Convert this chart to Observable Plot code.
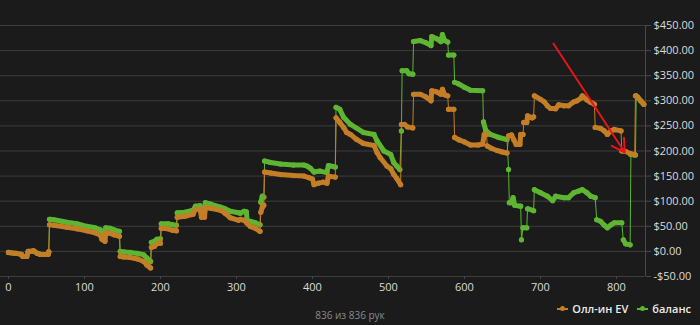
<!DOCTYPE html>
<html><head><meta charset="utf-8">
<script src="https://cdn.jsdelivr.net/npm/d3@7"></script>
<script src="https://cdn.jsdelivr.net/npm/@observablehq/plot@0.6"></script>
<style>
html,body{margin:0;padding:0;background:#1b1b1b;}
#wrap{position:relative;width:700px;height:325px;font-family:"Open Sans",sans-serif;overflow:hidden;background:#1b1b1b}
#legend{position:absolute;right:9px;top:301px;font-size:11px;color:#ececec;font-weight:600;display:flex;gap:9px;align-items:center;white-space:nowrap}
.item{display:flex;align-items:center;gap:4px}
.sw{position:relative;width:11px;height:2px}
.sw i{position:absolute;left:3px;top:-2px;width:5px;height:5px;border-radius:50%;background:inherit}
#caption{position:absolute;left:0;right:0;top:308px;text-align:center;font-size:10px;color:#8a8a8a}
</style></head>
<body><div id="wrap"><div id="chart"></div><div id="legend"></div><div id="caption"></div></div>
<script>
// ---- data ----
const seriesNames = ["Олл-ин EV", "баланс"];
const seriesColors = ["#c47e26", "#5db531"];
const xDomain = [-10.5, 838.2];
const yDomain = [-50, 450];
const xTicks = [0, 100, 200, 300, 400, 500, 600, 700, 800];
const yTicks = [-50, 0, 50, 100, 150, 200, 250, 300, 350, 400, 450];
const caption = "836 из 836 рук";
const arrowStart = [717, 414];
const arrowEnd = [811, 197];

const evPoints = [
 [0,-2],[10,-4],[17,-6],[19,-10],[24,-10],[26,0],[33,1],[38,-4],[42,-6],[52,-6],[53,-1],
 [54,53],[60,52],[77,48],[90,45],[103,41],[114,37],[121,32],[123,24],[127,20],[128,37],[134,36],[139,33],[146,30],
 [147,-10],[152,-11],[160,-12],[170,-15],[178,-20],[182,-27],[187,-33],
 [188,8],[192,10],[195,15],[200,16],
 [201,46],[210,45],[216,42],[221,41],
 [222,68],[232,70],[243,74],[246,84],[252,84],[254,68],[258,68],[259,88],[266,86],[279,82],[285,76],[292,67],[303,62],[305,64],[310,62],[314,56],[318,50],[325,46],[331,40],
 [332,78],[334,88],[336,92],
 [337,158],[345,156],[358,153],[375,151],[389,150],[395,147],[400,144],[402,133],[408,136],[414,138],[419,136],[421,150],[430,148],
 [431,266],[436,257],[441,247],[445,237],[450,233],[458,223],[467,215],[481,211],[485,197],[489,187],[498,170],[503,165],[507,153],[511,145],[516,133],
 [517,253],[521,253],[525,248],[532,246],
 [533,313],[542,313],[549,308],[556,300],[557,320],[563,318],[569,313],[571,323],[574,312],[578,310],[579,283],[586,283],
 [587,227],[593,222],[600,218],[608,212],[618,212],[624,214],[626,233],[629,233],[630,210],[636,205],[643,201],[650,198],[656,196],[658,230],[662,232],[665,222],[668,213],[673,213],[674,233],[677,233],[678,257],[682,257],[683,270],[689,266],[691,268],
 [692,310],[700,303],[705,298],[709,290],[713,285],[720,284],[724,292],[731,290],[737,290],[744,298],[748,300],[753,305],[755,310],[761,302],[766,297],[771,293],
 [772,247],[779,245],[784,240],[788,233],[793,240],[797,243],[806,240],
 [807,200],[812,199],[818,195],[824,193],
 [825,310],[828,307],[832,300],[836,293]
];

const balancePoints = [
 [0,-2],[10,-4],[17,-6],[19,-10],[24,-10],[26,0],[33,1],[38,-4],[42,-6],[52,-6],[53,-1],
 [54,64],[60,63],[70,60],[77,58],[90,55],[103,50],[114,47],[121,43],[125,38],[127,40],[128,47],[134,46],[139,43],[146,40],
 [147,0],[152,-1],[160,-2],[170,-4],[178,-7],[182,-13],[187,-20],
 [188,18],[192,20],[195,24],[200,25],
 [201,55],[210,55],[216,53],[221,52],
 [222,77],[232,78],[243,82],[246,90],[252,91],[254,80],[258,80],[259,97],[266,94],[279,88],[285,85],[292,80],[303,77],[305,76],[310,80],[313,79],[314,62],[318,60],[325,57],[331,53],
 [332,98],[334,110],[336,108],
 [337,180],[345,177],[358,174],[375,172],[389,172],[393,170],[397,166],[402,158],[410,160],[419,157],[421,171],[430,168],
 [431,287],[436,283],[441,267],[450,253],[467,237],[481,233],[485,220],[494,200],[503,193],[507,177],[511,170],[515,163],
 [517,240],
 [518,360],[524,360],[527,354],[532,353],
 [533,418],[542,420],[549,416],[556,410],[557,428],[563,424],[569,418],[571,432],[574,420],[578,417],[579,391],[586,391],
 [587,337],[592,334],[600,327],[608,321],[624,320],
 [625,258],[628,241],[634,233],[645,227],[656,223],
 [658,163],[659,97],[662,97],[664,107],[666,92],[674,90],
 [675,23],[677,47],[682,47],[683,85],[691,81],
 [692,123],[700,117],[709,110],[716,101],[720,110],[731,107],[737,107],[744,117],[750,120],[755,123],[761,117],[766,110],[772,107],
 [774,63],[779,60],[784,52],[788,47],[793,53],[797,57],[807,57],
 [809,23],[812,15],[818,13],
 [819,193],[824,192],[825,192],
 [826,310],[828,307],[832,300],[836,293]
];

// ---- build rows with segment ids (big jumps drawn thin) ----
function toRows(points, name) {
  let seg = 0;
  return points.map((p, i) => {
    if (i > 0 && Math.abs(p[1] - points[i - 1][1]) > 22) seg++;
    return {hand: p[0], value: p[1], series: name, seg: name + seg};
  });
}
const evRows = toRows(evPoints, seriesNames[0]);
const balRows = toRows(balancePoints, seriesNames[1]);

function seriesMarks(rows, color) {
  return [
    Plot.line(rows, {x: "hand", y: "value", stroke: color, strokeWidth: 1}),
    Plot.line(rows, {x: "hand", y: "value", z: "seg", stroke: color, strokeWidth: 5, strokeLinecap: "round", strokeLinejoin: "round"}),
    Plot.dot(rows, {x: "hand", y: "value", r: 2.6, fill: color, stroke: "none"})
  ];
}

const fmt = d => (d < 0 ? "-" : "") + "$" + Math.abs(d).toFixed(2);

const chart = Plot.plot({
  width: 700, height: 300,
  marginLeft: 0, marginRight: 55, marginTop: 25, marginBottom: 24,
  style: {background: "transparent", color: "#dcdcdc", fontFamily: "Open Sans, sans-serif", fontSize: "11px", overflow: "visible"},
  x: {domain: xDomain},
  y: {domain: yDomain},
  marks: [
    Plot.ruleY(yTicks, {stroke: "#3d3d3d", strokeWidth: 1}),
    Plot.ruleX([xDomain[1]], {stroke: "#4a4a4a"}),
    Plot.axisY({anchor: "right", ticks: yTicks, tickSize: 5, tickPadding: 3, tickFormat: fmt, stroke: "#4a4a4a", fill: "#dcdcdc", label: null}),
    Plot.axisX({ticks: xTicks, tickSize: 3, tickPadding: 4, tickFormat: d => String(d), stroke: "#4a4a4a", fill: "#dcdcdc", label: null}),
    ...seriesMarks(balRows, seriesColors[1]),
    ...seriesMarks(evRows, seriesColors[0]),
    Plot.arrow([{x1: arrowStart[0], y1: arrowStart[1], x2: arrowEnd[0], y2: arrowEnd[1]}],
      {x1: "x1", y1: "y1", x2: "x2", y2: "y2", stroke: "#e8141a", strokeWidth: 2, headLength: 11, bend: 0})
  ]
});
document.getElementById("chart").appendChild(chart);

// legend
const leg = document.getElementById("legend");
seriesNames.forEach((n, i) => {
  const it = document.createElement("div");
  it.className = "item";
  const sw = document.createElement("span");
  sw.className = "sw";
  sw.style.background = seriesColors[i];
  sw.appendChild(document.createElement("i"));
  const t = document.createElement("span");
  t.textContent = n;
  it.appendChild(sw); it.appendChild(t);
  leg.appendChild(it);
});
document.getElementById("caption").textContent = caption;
</script></body></html>
